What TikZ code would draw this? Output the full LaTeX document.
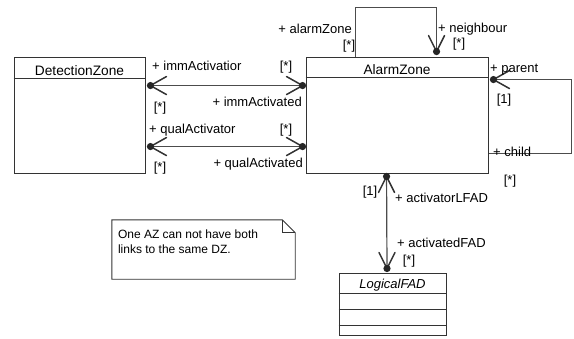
\documentclass[tikz,border=0pt]{standalone}
\usepackage{fontspec}
\setmainfont{Liberation Sans}
\usetikzlibrary{calc}
\begin{document}
\begin{tikzpicture}[x=1pt,y=-1pt,
  cls/.style={draw=black!80,line width=0.9pt,rectangle,inner sep=0pt},
  clsname/.style={font=\fontsize{13.7}{15}\selectfont,inner sep=0pt},
  lbl/.style={font=\fontsize{13}{15}\selectfont,inner sep=0pt},
  assoc/.style={draw=black!70,line width=1.2pt},
  vhead/.style={draw=black!80,line width=1.5pt,line cap=round},
  dot/.style={fill=black!85}
]
\useasboundingbox (0,0) rectangle (574,338);

% classes
\node[cls,minimum width=131pt,minimum height=116pt] (dz) at (79.5,115) {};
\draw[black!80,line width=0.9pt] ($(dz.north west)+(0,22)$) -- ($(dz.north east)+(0,22)$);
\node[clsname] (dzname) at ($(dz.north)+(0,14)$) {DetectionZone};

\node[cls,minimum width=182pt,minimum height=116pt] (az) at (397,115) {};
\draw[black!80,line width=0.9pt] ($(az.north west)+(0,21)$) -- ($(az.north east)+(0,21)$);
\node[clsname] (azname) at ($(az.north)+(0,13)$) {AlarmZone};

\node[cls,minimum width=107pt,minimum height=62pt] (lf) at (392.5,304) {};
\draw[black!80,line width=0.9pt] ($(lf.north west)+(0,21)$) -- ($(lf.north east)+(0,21)$);
\draw[black!80,line width=0.9pt] ($(lf.north west)+(0,37)$) -- ($(lf.north east)+(0,37)$);
\draw[black!80,line width=0.9pt] ($(lf.north west)+(0,53)$) -- ($(lf.north east)+(0,53)$);
\node[clsname,font=\fontsize{13}{15}\selectfont\itshape] (lfname) at ($(lf.north)+(0,13)$) {LogicalFAD};

% note
\node[minimum width=183pt,minimum height=59pt,inner sep=0pt] (note) at (203.5,249.5) {};
\draw[black!80,line width=0.9pt] (note.north west) -- ($(note.north east)+(-13,0)$) -- ($(note.north east)+(0,13)$) -- (note.south east) -- (note.south west) -- cycle;
\draw[black!80,line width=0.9pt] ($(note.north east)+(-13,0)$) -- ($(note.north east)+(-13,13)$) -- ($(note.north east)+(0,13)$);
\node[anchor=north west,align=left,inner sep=0pt,font=\fontsize{12}{15}\selectfont] (notetext) at ($(note.north west)+(6,10)$) {One AZ can not have both\\links to the same DZ.};

% connector endpoints
\coordinate (immL) at ($(dz.north east)+(5,29)$);
\coordinate (immR) at ($(az.north west)+(-3,29)$);
\coordinate (qualL) at ($(dz.north east)+(5,90)$);
\coordinate (qualR) at ($(az.north west)+(-3,90)$);
\coordinate (topA) at ($(az.north west)+(50,0)$);
\coordinate (topB) at ($(az.north west)+(131,-5)$);
\coordinate (rP) at ($(az.north east)+(5,23)$);
\coordinate (rC) at ($(az.south east)+(1,-20)$);
\coordinate (bA) at ($(az.south west)+(81,3)$);
\coordinate (bB) at ($(lf.north)+(-5.5,-4)$);

% connectors
\draw[assoc] (immL) -- (immR);
\draw[assoc] (qualL) -- (qualR);
\draw[assoc] (topA) -- ++(0,-49) -| (topB);
\draw[assoc] (rC) -- ++(82,0) |- (rP);
\draw[assoc] (bA) -- (bB);

% open arrow heads
\draw[vhead] ($(immL)+(16,-9)$) -- (immL) -- ($(immL)+(16,9)$);
\draw[vhead] ($(immR)+(-16,-9)$) -- (immR) -- ($(immR)+(-16,9)$);
\draw[vhead] ($(qualL)+(16,-9)$) -- (qualL) -- ($(qualL)+(16,9)$);
\draw[vhead] ($(qualR)+(-16,-9)$) -- (qualR) -- ($(qualR)+(-16,9)$);
\draw[vhead] ($(topB)+(-8,-16)$) -- (topB) -- ($(topB)+(8,-16)$);
\draw[vhead] ($(rP)+(16,-9)$) -- (rP) -- ($(rP)+(16,9)$);
\draw[vhead] ($(bA)+(-8,16)$) -- (bA) -- ($(bA)+(8,16)$);
\draw[vhead] ($(bB)+(-8,-16)$) -- (bB) -- ($(bB)+(8,-16)$);

\foreach \p in {immL,immR,qualL,qualR,topB,rP,bA,bB}
  \fill[dot] (\p) circle (3.6pt);

% labels
\node[lbl,anchor=base west] (l1) at (152,70.5) {+ immActivatior};
\node[lbl,anchor=base] (l2) at (286,70.5) {[*]};
\node[lbl,anchor=base] (l3) at (160,111) {[*]};
\node[lbl,anchor=base east] (l4) at (302,106) {+ immActivated};
\node[lbl,anchor=base west] (l5) at (149,133.5) {+ qualActivator};
\node[lbl,anchor=base] (l6) at (286,133.5) {[*]};
\node[lbl,anchor=base] (l7) at (160,171.5) {[*]};
\node[lbl,anchor=base east] (l8) at (303,167.5) {+ qualActivated};
\node[lbl,anchor=base east] (l9) at (352,33.5) {+ alarmZone};
\node[lbl,anchor=base] (l10) at (349,49.5) {[*]};
\node[lbl,anchor=base west] (l11) at (438,32.5) {+ neighbour};
\node[lbl,anchor=base] (l12) at (459,47.5) {[*]};
\node[lbl,anchor=base west] (l13) at (490,72.5) {+ parent};
\node[lbl,anchor=base] (l14) at (504,103.5) {[1]};
\node[lbl,anchor=base west] (l15) at (493,156.5) {+ child};
\node[lbl,anchor=base] (l16) at (510,184.5) {[*]};
\node[lbl,anchor=base] (l17) at (370,195) {[1]};
\node[lbl,anchor=base west] (l18) at (395,202.5) {+ activatorLFAD};
\node[lbl,anchor=base west] (l19) at (397,247.5) {+ activatedFAD};
\node[lbl,anchor=base] (l20) at (409,264.5) {[*]};
\end{tikzpicture}
\end{document}
